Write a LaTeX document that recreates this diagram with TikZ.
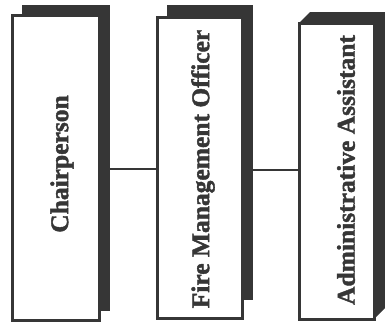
\documentclass[tikz,border=0pt]{standalone}
\usepackage{fontspec}
\setmainfont{Liberation Serif}[BoldFeatures={FakeBold=1.6}]
\definecolor{ink}{HTML}{363636}
\tikzset{
  shadowfill/.style={fill=ink, draw=none},
  frontbox/.style={draw=ink, line width=3pt, fill=white, inner sep=0pt, anchor=center},
  boxlabel/.style={font=\bfseries\fontsize{25.5}{28}\selectfont, text=ink, rotate=90, inner sep=0pt},
  link/.style={draw=ink, line width=2.2pt}
}
\begin{document}
\begin{tikzpicture}[x=1pt,y=-1pt]
\useasboundingbox (0,0) rectangle (385,324);
% box 1
\node[shadowfill, minimum width=88pt, minimum height=306pt, inner sep=0pt] (s1) at (66,158) {};
\node[frontbox, minimum width=87pt, minimum height=305pt] (f1) at (55.5,167.5) {};
\node[boxlabel] (t1) at (62,164) {Chairperson};
% box 2
\node[shadowfill, minimum width=86pt, minimum height=295pt, inner sep=0pt] (s2) at (210,152.5) {};
\node[frontbox, minimum width=85pt, minimum height=301pt] (f2) at (199.5,167.5) {};
\node[boxlabel] (t2) at (203,169) {Fire Management Officer};
% box 3
\fill[ink] (299,23) -- (310,12) -- (385,12) -- (385,308) -- (374,319) -- cycle;
\node[frontbox, minimum width=75pt, minimum height=296pt] (f3) at (336.5,171) {};
\node[boxlabel] (t3) at (346,170) {Administrative Assistant};
% connectors
\coordinate (c1) at (0,169);
\coordinate (c2) at (0,170);
\draw[link] (s1.east |- c1) -- (f2.west |- c1);
\draw[link] (s2.east |- c2) -- (f3.west |- c2);
\end{tikzpicture}
\end{document}
